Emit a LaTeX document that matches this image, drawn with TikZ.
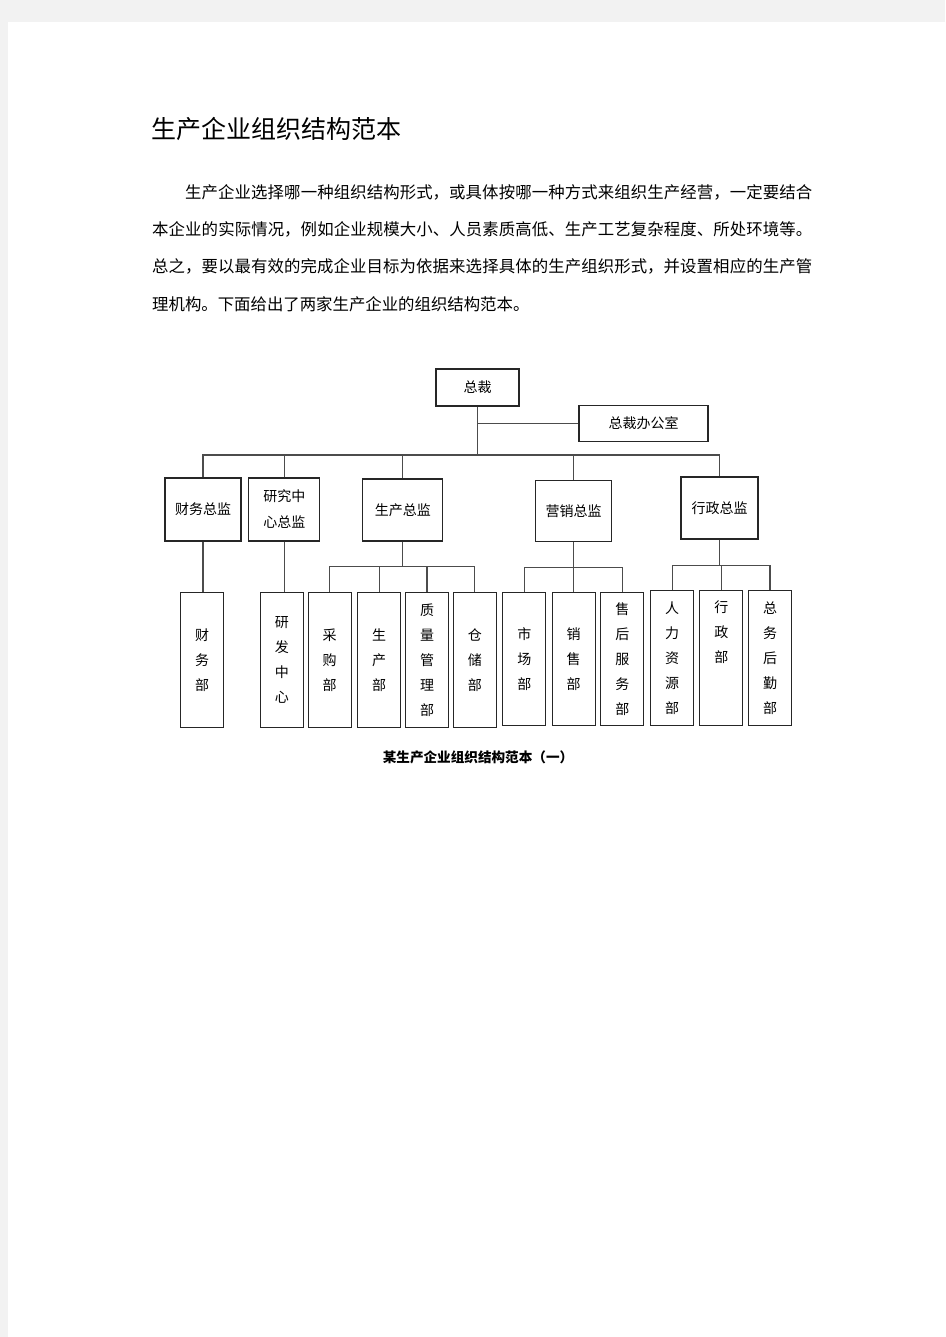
\documentclass[tikz,border=0pt]{standalone}
\usepackage{fontspec}
\setmainfont{Noto Sans CJK SC}
\XeTeXlinebreaklocale "zh"
\XeTeXlinebreakskip=0pt plus 2pt

\begin{document}
\begin{tikzpicture}[x=1pt, y=-1pt,
    box/.style={draw=black!85, line width=1.1pt, fill=white, inner sep=0pt, align=center,
      font=\fontsize{14}{26}\selectfont},
    colbox/.style={box, minimum width=43pt, minimum height=135pt, font=\fontsize{14}{25}\selectfont},
    conn/.style={draw=black!70, line width=1.1pt}]
  \useasboundingbox (0,0) rectangle (945,1337);
  \fill[black!5] (0,0) rectangle (945,1337);
  \fill[white] (8,22) rectangle (945,1337);

  % heading and text
  \node[anchor=west, inner sep=0pt, font=\fontsize{25}{30}\selectfont] (title) at (151,129) {生产企业组织结构范本};
  \node[anchor=north west, inner sep=0pt, text width=660pt, align=justify,
    font=\fontsize{16.4}{37.3}\selectfont] (intro) at (152,184)
    {\hspace*{33pt}生产企业选择哪一种组织结构形式，或具体按哪一种方式来组织生产经营，一定要结合\linebreak
     本企业的实际情况，例如企业规模大小、人员素质高低、生产工艺复杂程度、所处环境等。\linebreak
     总之，要以最有效的完成企业目标为依据来选择具体的生产组织形式，并设置相应的生产管\linebreak
     理机构。下面给出了两家生产企业的组织结构范本。};

  % top
  \node[box, minimum width=83pt, minimum height=37pt] (zc) at (477.5,387.5) {总裁};
  \node[box, minimum width=129pt, minimum height=36pt] (zcb) at (643.5,423.5) {总裁办公室};

  % directors
  \node[box, minimum width=76pt, minimum height=63pt] (cwzj) at (203,509.5) {财务总监};
  \node[box, minimum width=71pt, minimum height=63pt] (yjzj) at (284.4,509.5) {研究中\\心总监};
  \node[box, minimum width=80pt, minimum height=62pt] (sczj) at (402.8,510) {生产总监};
  \node[box, minimum width=76pt, minimum height=61pt] (yxzj) at (573.7,511.3) {营销总监};
  \node[box, minimum width=77pt, minimum height=62pt] (xzzj) at (719.5,508) {行政总监};

  % departments
  \node[colbox] (cwb) at (202.2,659.8) {财\\务\\部};
  \node[colbox] (yfzx) at (281.8,659.8) {研\\发\\中\\心};
  \node[colbox] (cgb) at (329.7,659.8) {采\\购\\部};
  \node[colbox] (scb) at (379.2,659.8) {生\\产\\部};
  \node[colbox] (zlglb) at (427,659.8) {质\\量\\管\\理\\部};
  \node[colbox] (ccb) at (474.9,659.8) {仓\\储\\部};
  \node[colbox, minimum height=133pt] (scbm) at (524.3,659.3) {市\\场\\部};
  \node[colbox, minimum height=133pt] (xsb) at (573.7,659.3) {销\\售\\部};
  \node[colbox, minimum height=133pt] (shfwb) at (622.4,659.3) {售\\后\\服\\务\\部};
  \node[colbox] (rlzyb) at (672.2,658.4) {人\\力\\资\\源\\部};
  \node[colbox] (xzb) at (721.3,658.4) {};
  \node[anchor=north, inner sep=0pt, align=center, font=\fontsize{14}{25}\selectfont] (xzbt)
    at ([yshift=-10pt]xzb.north) {行\\政\\部};
  \node[colbox] (zwhqb) at (770,658.4) {总\\务\\后\\勤\\部};

  \node[inner sep=0pt, font=\fontsize{13.6}{16}\selectfont\bfseries] (cap) at (478,757) {某生产企业组织结构范本（一）};

  % buses
  \coordinate (bus) at (0,455);
  \coordinate (scbus) at (0,566.5);
  \coordinate (yxbus) at (0,567.7);
  \coordinate (xzbus) at (0,565.3);

  \draw[conn] (zc.south) -- (zc.south |- bus);
  \draw[conn] (zcb.west) -- (zcb.west -| zc.south);
  \draw[conn] (cwzj.north) -- (cwzj.north |- bus) -- (xzzj.north |- bus) -- (xzzj.north);
  \foreach \n in {yjzj,sczj,yxzj}
    \draw[conn] (\n.north) -- (\n.north |- bus);

  \draw[conn] (cwzj.south) -- (cwzj.south |- cwb.north);
  \draw[conn] (yjzj.south) -- (yjzj.south |- yfzx.north);

  \draw[conn] (sczj.south) -- (sczj.south |- scbus);
  \draw[conn] (cgb.north) -- (cgb.north |- scbus) -- (ccb.north |- scbus) -- (ccb.north);
  \foreach \n in {scb,zlglb}
    \draw[conn] (\n.north) -- (\n.north |- scbus);

  \draw[conn] (yxzj.south) -- (yxzj.south |- yxbus);
  \draw[conn] (scbm.north) -- (scbm.north |- yxbus) -- (shfwb.north |- yxbus) -- (shfwb.north);
  \draw[conn] (xsb.north) -- (xsb.north |- yxbus);

  \draw[conn] (xzzj.south) -- (xzzj.south |- xzbus);
  \draw[conn] (rlzyb.north) -- (rlzyb.north |- xzbus) -- (zwhqb.north |- xzbus) -- (zwhqb.north);
  \draw[conn] (xzb.north) -- (xzb.north |- xzbus);
\end{tikzpicture}
\end{document}
